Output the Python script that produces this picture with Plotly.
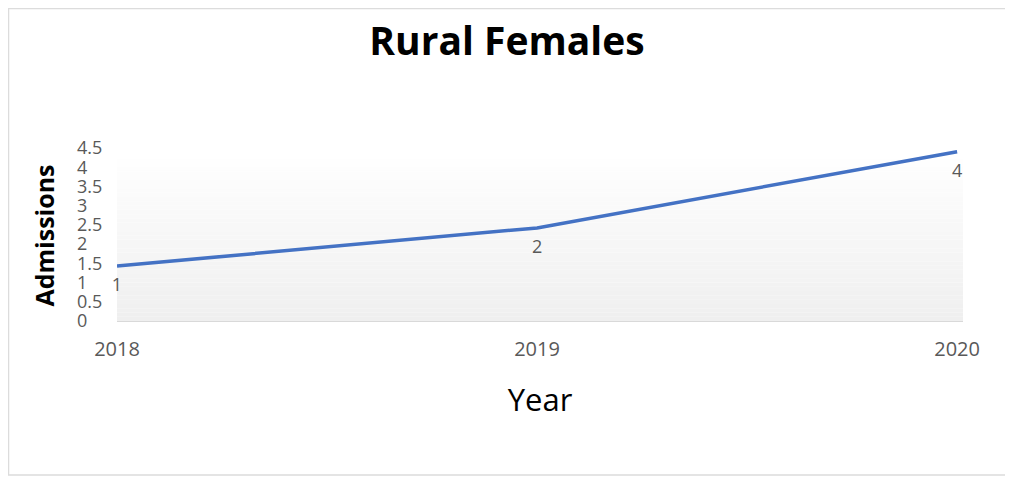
import plotly.graph_objects as go

years = ["2018", "2019", "2020"]
admissions = [1, 2, 4]
labels = ["1", "2", "4"]
ytick_text = ["0", "0.5", "1", "1.5", "2", "2.5", "3", "3.5", "4", "4.5"]
ytick_vals = [0, 0.5, 1, 1.5, 2, 2.5, 3, 3.5, 4, 4.5]

# figure drawn 8px smaller to account for the page's body margin
W, H = 1005, 469
ML, MR, MT, MB = 60, 50, 120, 129
plot_w = W - ML - MR          # 895
plot_h = H - MT - MB          # 220
paper_bottom = H - MB         # fig y of paper bottom (340)


def py(fig_y):
    return (paper_bottom - fig_y) / plot_h


def px(fig_x):
    return (fig_x - ML) / plot_w


# plot area (fig coords): x 109..955, y 142..313
PX0, PX1, PY0, PY1 = 109, 955, 142, 313

xpos = list(range(len(years)))

fig = go.Figure()
fig.add_trace(go.Scatter(
    x=xpos, y=admissions, mode="lines+markers+text", text=labels,
    textposition="bottom center",
    textfont=dict(family="Open Sans", size=18, color="#595959"),
    line=dict(color="#4472C4", width=3.5),
    marker=dict(size=17, color="rgba(0,0,0,0)", line=dict(width=0)),
    cliponaxis=False, showlegend=False, hoverinfo="skip",
))
fig.add_trace(go.Scatter(x=[None], y=[None], yaxis="y2", showlegend=False, hoverinfo="skip"))

shapes = []
n = 40
for i in range(n):
    t = i / (n - 1)
    c = int(round(255 - (255 - 239) * (1 - t)))
    shapes.append(dict(type="rect", xref="x domain", yref="y domain",
                       x0=0, x1=1, y0=i / n, y1=(i + 1) / n,
                       fillcolor=f"rgb({c},{c},{c})", line=dict(width=0), layer="below"))
shapes.append(dict(type="rect", xref="paper", yref="paper",
                   x0=px(0.5), x1=px(1012), y0=py(467), y1=py(0.5),
                   line=dict(color="#dcdcdc", width=1.5), fillcolor="rgba(0,0,0,0)"))

# y2 tick-label axis: 0 at fig y 313, 4.5 at fig y 140
scale = (313 - 140) / 4.5
y2_lo, y2_hi = 330, 122
fig.update_layout(
    width=W, height=H,
    margin=dict(l=ML, r=MR, t=MT, b=MB),
    paper_bgcolor="white", plot_bgcolor="rgba(0,0,0,0)",
    title=dict(text="<b>Rural Females</b>", x=499 / W, xanchor="center",
               y=1 - 33 / H, yanchor="middle", yref="container",
               font=dict(family="Open Sans", size=39, color="#000000")),
    xaxis=dict(domain=[px(PX0), px(PX1)], range=[0, 2.014],
               tickvals=xpos, ticktext=years,
               ticks="outside", ticklen=10, tickcolor="rgba(0,0,0,0)",
               tickfont=dict(family="Open Sans", size=20, color="#595959"),
               showline=True, linecolor="#d9d9d9", linewidth=1,
               showgrid=False, zeroline=False,
               title=dict(text="Year", standoff=28,
                          font=dict(family="Open Sans", size=31, color="#000000")),
               automargin=False),
    yaxis=dict(domain=[py(PY1), py(PY0)],
               range=[1 - (313 - 258) / 38.1, 1 + (258 - 142) / 38.1],
               showticklabels=False, showgrid=False,
               zeroline=False, showline=False,
               title=dict(text="<b>Admissions</b>", standoff=54,
                          font=dict(family="Open Sans", size=25, color="#000000")),
               automargin=False),
    yaxis2=dict(domain=[py(y2_lo), py(y2_hi)], anchor="free", position=px(65), side="left",
                range=[-(y2_lo - 313) / scale, 4.5 + (140 - y2_hi) / scale],
                tickvals=ytick_vals, ticktext=ytick_text,
                ticklabelposition="inside", ticks="",
                tickfont=dict(family="Open Sans", size=18, color="#595959"),
                showgrid=False, zeroline=False, showline=False, automargin=False),
    shapes=shapes,
)

fig.write_html("out.html")
